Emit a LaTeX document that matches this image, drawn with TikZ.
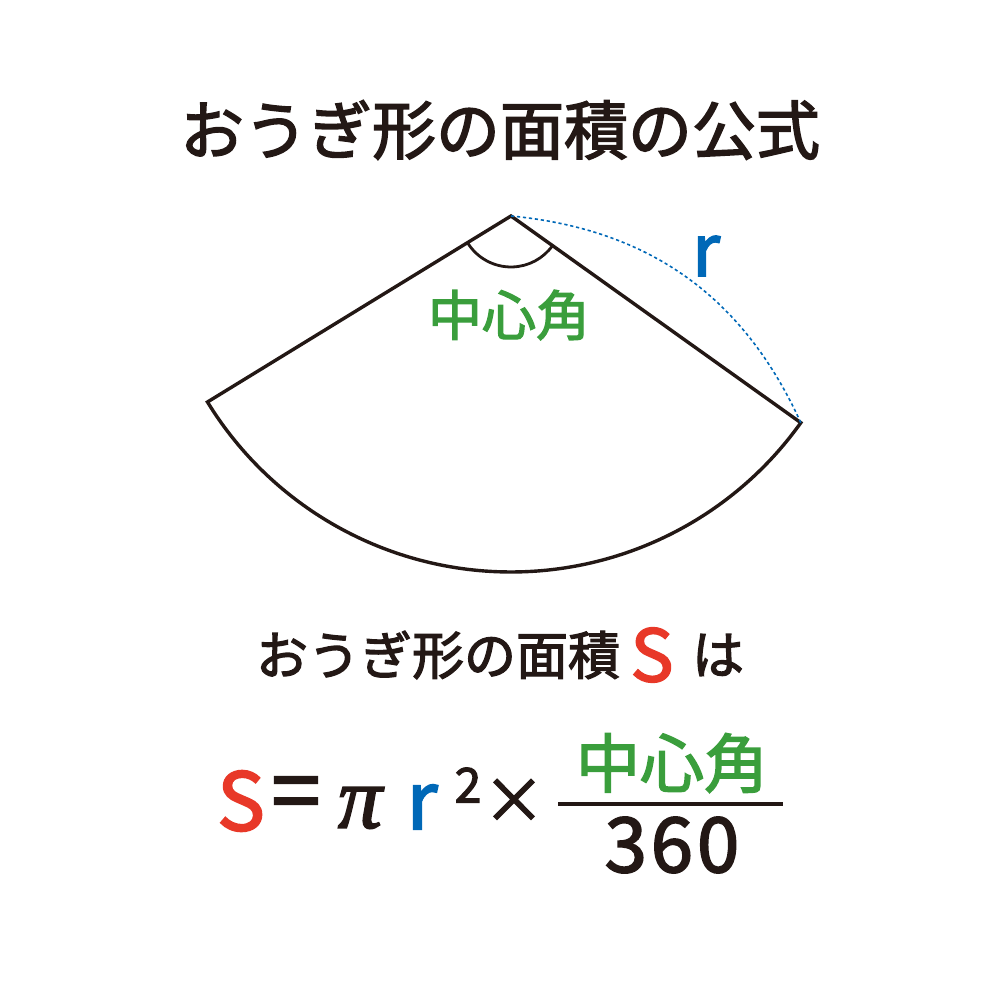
\documentclass[tikz,border=0pt]{standalone}
\usepackage{fontspec}
\newfontfamily\jpfont{Noto Sans CJK JP}[FakeBold=2.4]
\newfontfamily\pifont{Liberation Serif}[FakeBold=2]
\usetikzlibrary{positioning,calc}
\definecolor{inkblack}{HTML}{231815}
\definecolor{sred}{HTML}{E83828}
\definecolor{rblue}{HTML}{0068B7}
\definecolor{agreen}{HTML}{3A9E3C}

\begin{document}
\begin{tikzpicture}[x=0.5pt,y=0.5pt]
\tikzset{
    sector/.style={
           draw=inkblack,
           line width=1.7pt,
           line join=miter},
    anglemark/.style={
           draw=inkblack,
           line width=1.4pt},
    % dotted radius
    radiusline/.style={
           draw=rblue,
           line width=0.8pt,
           dash pattern=on 1.6pt off 1.4pt},
    jp/.style={
           font=\jpfont,
           text=inkblack,
           inner sep=0pt}
}
\useasboundingbox (0,0) rectangle (1000,996);
\node[jp,font=\jpfont\fontsize{32pt}{36pt}\selectfont] (title) at (500,866) {おうぎ形の面積の公式};
% sector
\coordinate (apex) at (511,780);
\coordinate (leftend) at ($(apex)+(211.5:356)$);
\coordinate (rightend) at ($(apex)+(324.5:356)$);
\draw[sector] (apex) -- (leftend) arc[start angle=211.5,end angle=324.5,radius=178pt] -- cycle;
\draw[anglemark] ($(apex)+(211.5:51)$) arc[start angle=211.5,end angle=324.5,radius=25.5pt];
\draw[radiusline] (apex) to[bend left=30] (rightend);
\node[jp,text=agreen,font=\jpfont\fontsize{27pt}{30pt}\selectfont] (angle) at (509,681) {中心角};
\node[jp,text=rblue,font=\jpfont\fontsize{36pt}{40pt}\selectfont] (rlabel) at (706,740) {r};
% area sentence
\node[jp,font=\jpfont\fontsize{26pt}{30pt}\selectfont] (sentence) at (438,341) {おうぎ形の面積};
\node[jp,text=sred,font=\jpfont\fontsize{36pt}{40pt}\selectfont] (sentS) at (652,341) {S};
\node[jp,font=\jpfont\fontsize{26pt}{30pt}\selectfont] (wa) at (718,341) {は};
% formula
\node[jp,text=sred,font=\jpfont\fontsize{40pt}{44pt}\selectfont] (fS) at (241,195) {S};
\node[jp,font=\jpfont\fontsize{44pt}{48pt}\selectfont] (eq) at (296,196) {=};
\node[jp,font=\pifont\itshape\fontsize{44pt}{48pt}\selectfont] (pi) at (360,188) {π};
\node[jp,text=rblue,font=\jpfont\fontsize{40pt}{44pt}\selectfont] (fr) at (422,189) {r};
\node[jp,font=\jpfont\fontsize{24pt}{28pt}\selectfont] (sq) at (468,211) {2};
\node[jp,font=\jpfont\fontsize{31pt}{34pt}\selectfont] (times) at (514,195) {×};
\coordinate (barL) at (558,192);
\coordinate (barR) at (783,192);
\draw[inkblack,line width=2.3pt] (barL) -- (barR);
\node[jp,text=agreen,font=\jpfont\fontsize{32pt}{36pt}\selectfont] (num) at (672,233) {中心角};
\node[jp,font=\jpfont\fontsize{38pt}{42pt}\selectfont] (den) at (672,151) {3\kern2pt 6\kern2pt 0};
\end{tikzpicture}
\end{document}
